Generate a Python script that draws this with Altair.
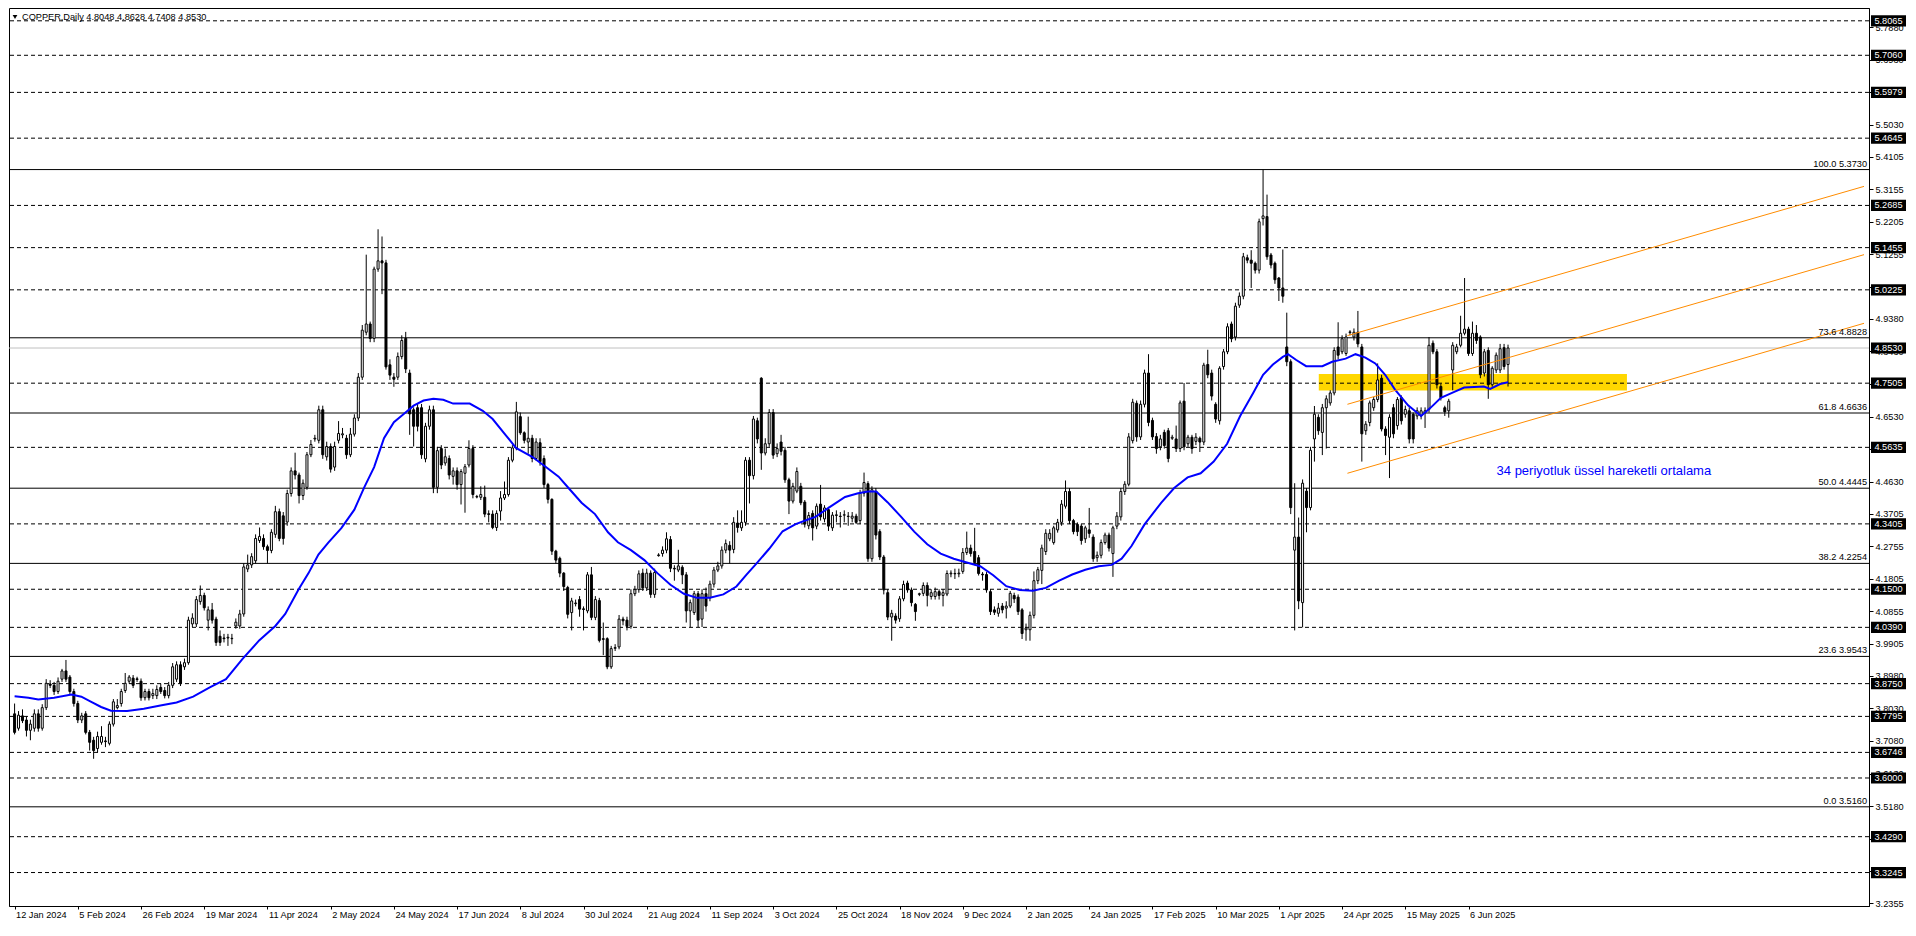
import altair as alt
import pandas as pd

W, H = 1860, 898
FONT = "Liberation Sans"
FS = 9.2

# ---------------- candle data (daily, 12 Jan 2024 -> 20 Jun 2025) ----------------
opens = [
3.787,3.745,3.781,3.769,3.739,3.745,3.787,3.745,3.805,3.874,
3.870,3.852,3.888,3.912,3.894,3.852,3.817,3.769,3.787,3.733,
3.710,3.686,3.704,3.708,3.701,3.757,3.805,3.817,3.855,3.882,
3.891,3.889,3.882,3.834,3.852,3.840,3.840,3.864,3.855,3.840,
3.870,3.888,3.930,3.924,3.936,4.049,4.049,4.114,4.132,4.060,
4.090,4.063,4.013,4.008,4.008,4.006,4.043,4.043,4.078,4.209,
4.221,4.233,4.292,4.298,4.274,4.263,4.310,4.376,4.364,4.346,
4.429,4.495,4.483,4.423,4.447,4.542,4.588,4.584,4.673,4.536,
4.566,4.506,4.584,4.600,4.590,4.542,4.602,4.649,4.768,4.899,
4.923,4.881,5.083,5.107,5.101,4.804,4.768,4.768,4.828,4.881,
4.780,4.673,4.679,4.679,4.530,4.625,4.673,4.447,4.560,4.518,
4.531,4.479,4.495,4.455,4.488,4.512,4.560,4.420,4.418,4.418,
4.370,4.369,4.330,4.378,4.416,4.426,4.526,4.562,4.653,4.606,
4.579,4.590,4.531,4.577,4.531,4.455,4.412,4.261,4.240,4.197,
4.155,4.082,4.108,4.120,4.093,4.087,4.192,4.068,4.117,4.006,
4.006,3.924,3.978,3.982,4.063,4.060,4.042,4.137,4.149,4.197,
4.154,4.197,4.135,4.248,4.254,4.264,4.295,4.211,4.206,4.214,
4.192,4.087,4.082,4.137,4.063,4.137,4.125,4.165,4.206,4.218,
4.264,4.278,4.266,4.343,4.329,4.345,4.526,4.481,4.641,4.765,
4.547,4.574,4.665,4.545,4.579,4.555,4.469,4.407,4.436,4.450,
4.404,4.335,4.371,4.334,4.398,4.355,4.382,4.329,4.365,4.363,
4.366,4.362,4.357,4.363,4.350,4.430,4.458,4.239,4.435,4.318,
4.244,4.140,4.069,4.072,4.064,4.122,4.168,4.148,4.106,4.135,
4.138,4.161,4.129,4.129,4.143,4.132,4.136,4.195,4.196,4.195,
4.202,4.257,4.270,4.260,4.242,4.194,4.193,4.143,4.090,4.080,
4.101,4.095,4.101,4.132,4.127,4.090,4.032,4.032,4.074,4.175,
4.205,4.260,4.297,4.286,4.323,4.345,4.392,4.435,4.350,4.339,
4.334,4.297,4.323,4.302,4.242,4.249,4.286,4.308,4.254,4.334,
4.361,4.435,4.456,4.583,4.692,4.594,4.689,4.780,4.642,4.595,
4.565,4.607,4.612,4.590,4.588,4.560,4.698,4.574,4.593,4.581,
4.590,4.579,4.805,4.780,4.689,4.641,4.799,4.842,4.923,4.885,
4.978,5.004,5.116,5.109,5.100,5.080,5.230,5.236,5.124,5.100,
5.057,5.028,4.856,4.813,4.264,4.302,4.111,4.436,4.388,4.588,
4.651,4.607,4.679,4.693,4.722,4.856,4.842,4.837,4.898,4.885,
4.899,4.856,4.612,4.636,4.679,4.703,4.765,4.617,4.593,4.679,
4.627,4.708,4.660,4.670,4.660,4.655,4.655,4.665,4.674,4.867,
4.842,4.741,4.679,4.670,4.789,4.842,4.861,4.896,4.908,4.837,
4.896,4.885,4.780,4.846,4.746,4.789,4.789,4.854,4.8048]

highs = [
3.817,3.795,3.800,3.780,3.770,3.800,3.800,3.815,3.888,3.885,
3.880,3.893,3.918,3.944,3.900,3.860,3.825,3.790,3.795,3.740,
3.720,3.735,3.751,3.720,3.765,3.830,3.830,3.860,3.906,3.900,
3.900,3.895,3.890,3.860,3.860,3.860,3.870,3.875,3.865,3.880,
3.935,3.940,3.940,3.948,4.070,4.080,4.130,4.161,4.140,4.100,
4.110,4.070,4.030,4.020,4.020,4.020,4.065,4.090,4.225,4.251,
4.255,4.310,4.330,4.310,4.280,4.325,4.393,4.385,4.375,4.440,
4.505,4.548,4.490,4.470,4.550,4.585,4.600,4.685,4.685,4.580,
4.575,4.580,4.640,4.620,4.600,4.620,4.660,4.780,4.920,5.125,
4.930,5.090,5.199,5.178,5.110,4.820,4.780,4.840,4.890,4.900,
4.790,4.680,4.690,4.690,4.635,4.685,4.685,4.565,4.570,4.560,
4.540,4.505,4.505,4.500,4.515,4.584,4.570,4.425,4.450,4.452,
4.380,4.380,4.380,4.436,4.464,4.535,4.570,4.696,4.665,4.610,
4.653,4.600,4.590,4.590,4.540,4.460,4.415,4.265,4.245,4.200,
4.160,4.125,4.120,4.130,4.100,4.200,4.215,4.130,4.125,4.053,
4.010,3.985,3.990,4.075,4.070,4.070,4.150,4.160,4.205,4.210,
4.210,4.205,4.210,4.255,4.275,4.316,4.305,4.220,4.265,4.220,
4.200,4.120,4.145,4.145,4.150,4.155,4.175,4.215,4.230,4.275,
4.295,4.290,4.360,4.380,4.380,4.535,4.535,4.655,4.650,4.768,
4.590,4.675,4.675,4.575,4.600,4.565,4.475,4.460,4.505,4.460,
4.410,4.375,4.380,4.400,4.454,4.395,4.390,4.375,4.380,4.375,
4.380,4.375,4.375,4.370,4.440,4.490,4.465,4.450,4.445,4.325,
4.250,4.150,4.090,4.080,4.130,4.175,4.175,4.155,4.110,4.140,
4.170,4.170,4.150,4.155,4.150,4.150,4.205,4.205,4.210,4.210,
4.270,4.318,4.280,4.329,4.250,4.200,4.200,4.150,4.100,4.110,
4.110,4.115,4.145,4.140,4.135,4.095,4.050,4.085,4.202,4.215,
4.280,4.325,4.325,4.335,4.355,4.410,4.467,4.445,4.355,4.345,
4.340,4.335,4.387,4.310,4.260,4.295,4.315,4.315,4.335,4.375,
4.445,4.465,4.605,4.705,4.700,4.700,4.790,4.835,4.650,4.605,
4.600,4.615,4.620,4.600,4.627,4.700,4.751,4.600,4.600,4.605,
4.595,4.810,4.848,4.790,4.695,4.800,4.850,4.925,4.930,4.985,
5.015,5.130,5.125,5.138,5.105,5.230,5.373,5.300,5.130,5.105,
5.060,5.140,4.956,4.820,4.459,4.359,4.470,4.445,4.565,4.684,
4.660,4.690,4.715,4.730,4.855,4.928,4.890,4.895,4.905,4.910,
4.961,4.865,4.640,4.700,4.710,4.808,4.775,4.625,4.660,4.690,
4.710,4.715,4.685,4.680,4.665,4.680,4.680,4.680,4.885,4.875,
4.850,4.750,4.685,4.705,4.870,4.865,4.947,5.057,4.915,4.930,
4.920,4.890,4.850,4.855,4.800,4.840,4.865,4.865,4.8628]

lows = [
3.727,3.738,3.760,3.721,3.710,3.735,3.735,3.738,3.798,3.862,
3.842,3.845,3.880,3.880,3.845,3.808,3.760,3.760,3.727,3.680,
3.656,3.675,3.697,3.690,3.695,3.750,3.800,3.808,3.848,3.875,
3.862,3.880,3.825,3.826,3.826,3.830,3.830,3.845,3.832,3.832,
3.862,3.880,3.868,3.915,3.930,4.040,4.040,4.105,4.088,4.030,
4.050,3.985,3.985,3.995,3.985,3.990,4.035,4.035,4.070,4.200,
4.212,4.225,4.285,4.265,4.225,4.255,4.300,4.290,4.280,4.335,
4.420,4.470,4.400,4.410,4.440,4.535,4.580,4.575,4.530,4.525,
4.490,4.495,4.575,4.590,4.530,4.535,4.595,4.640,4.760,4.890,
4.870,4.870,5.075,5.010,4.790,4.760,4.740,4.760,4.820,4.780,
4.600,4.566,4.610,4.530,4.520,4.615,4.430,4.430,4.500,4.510,
4.470,4.455,4.440,4.397,4.373,4.505,4.415,4.415,4.410,4.360,
4.345,4.325,4.320,4.350,4.410,4.420,4.520,4.555,4.600,4.575,
4.545,4.520,4.525,4.510,4.445,4.400,4.250,4.225,4.185,4.145,
4.065,4.030,4.100,4.070,4.030,4.080,4.060,4.060,3.995,3.958,
3.917,3.918,3.970,3.975,4.045,4.030,4.035,4.130,4.140,4.145,
4.145,4.125,4.125,4.245,4.245,4.255,4.200,4.175,4.200,4.165,
4.053,4.040,4.075,4.040,4.040,4.085,4.115,4.155,4.200,4.210,
4.255,4.225,4.255,4.315,4.320,4.335,4.400,4.470,4.575,4.498,
4.540,4.565,4.530,4.535,4.540,4.460,4.369,4.400,4.430,4.395,
4.330,4.325,4.292,4.325,4.350,4.345,4.320,4.320,4.345,4.330,
4.345,4.335,4.345,4.340,4.340,4.420,4.230,4.230,4.295,4.235,
4.135,4.060,4.000,4.050,4.055,4.115,4.140,4.100,4.058,4.130,
4.130,4.100,4.120,4.120,4.120,4.100,4.130,4.185,4.180,4.185,
4.195,4.250,4.245,4.220,4.190,4.175,4.140,4.075,4.075,4.070,
4.080,4.065,4.095,4.110,4.075,4.005,4.000,4.000,4.065,4.165,
4.165,4.250,4.290,4.280,4.315,4.335,4.385,4.340,4.310,4.305,
4.280,4.285,4.300,4.230,4.230,4.240,4.280,4.260,4.186,4.325,
4.350,4.425,4.450,4.575,4.580,4.585,4.680,4.625,4.585,4.545,
4.555,4.560,4.520,4.585,4.550,4.550,4.555,4.565,4.545,4.570,
4.550,4.570,4.765,4.700,4.635,4.630,4.790,4.835,4.870,4.875,
4.970,4.995,5.100,5.028,5.070,5.070,5.210,5.110,5.085,5.040,
4.990,4.985,4.800,4.369,4.030,4.092,4.039,4.316,4.380,4.522,
4.600,4.541,4.560,4.685,4.715,4.820,4.835,4.830,4.890,4.875,
4.855,4.522,4.600,4.625,4.670,4.695,4.610,4.541,4.474,4.590,
4.615,4.630,4.650,4.575,4.575,4.645,4.645,4.620,4.665,4.835,
4.735,4.700,4.655,4.650,4.730,4.835,4.855,4.890,4.830,4.830,
4.865,4.765,4.770,4.705,4.740,4.780,4.780,4.790,4.7408]

closes = [
3.733,3.783,3.767,3.739,3.757,3.787,3.745,3.805,3.876,3.870,
3.852,3.882,3.912,3.888,3.852,3.817,3.769,3.781,3.733,3.704,
3.680,3.721,3.721,3.706,3.757,3.822,3.811,3.852,3.876,3.894,
3.870,3.887,3.834,3.852,3.834,3.846,3.858,3.852,3.840,3.870,
3.924,3.930,3.876,3.936,4.060,4.066,4.120,4.132,4.096,4.090,
4.060,3.995,3.995,4.006,4.010,4.007,4.054,4.078,4.215,4.221,
4.245,4.298,4.304,4.274,4.263,4.316,4.376,4.298,4.298,4.429,
4.495,4.483,4.423,4.459,4.542,4.572,4.590,4.673,4.542,4.566,
4.500,4.566,4.604,4.603,4.542,4.602,4.649,4.768,4.905,4.923,
4.881,5.083,5.107,5.101,4.798,4.774,4.762,4.828,4.875,4.792,
4.661,4.625,4.625,4.542,4.625,4.673,4.447,4.554,4.512,4.536,
4.483,4.495,4.455,4.493,4.507,4.560,4.426,4.419,4.426,4.369,
4.368,4.330,4.371,4.416,4.426,4.526,4.562,4.667,4.606,4.584,
4.590,4.531,4.579,4.522,4.455,4.412,4.261,4.235,4.197,4.158,
4.077,4.116,4.110,4.092,4.091,4.192,4.068,4.120,4.001,4.004,
3.924,3.977,3.980,4.063,4.058,4.042,4.137,4.149,4.195,4.154,
4.197,4.135,4.199,4.250,4.264,4.297,4.211,4.209,4.218,4.192,
4.087,4.111,4.137,4.060,4.137,4.101,4.165,4.206,4.218,4.264,
4.283,4.264,4.345,4.330,4.345,4.526,4.481,4.646,4.588,4.547,
4.574,4.665,4.541,4.560,4.552,4.469,4.407,4.450,4.493,4.402,
4.340,4.365,4.329,4.392,4.361,4.387,4.334,4.366,4.367,4.362,
4.367,4.363,4.363,4.345,4.430,4.461,4.239,4.440,4.308,4.244,
4.148,4.069,4.080,4.060,4.122,4.164,4.148,4.111,4.085,4.137,
4.161,4.132,4.140,4.143,4.132,4.140,4.196,4.197,4.195,4.197,
4.257,4.270,4.254,4.228,4.196,4.192,4.148,4.085,4.083,4.095,
4.090,4.101,4.138,4.122,4.085,4.021,4.037,4.074,4.175,4.207,
4.270,4.313,4.313,4.329,4.345,4.398,4.435,4.350,4.318,4.318,
4.292,4.329,4.313,4.239,4.249,4.286,4.308,4.270,4.329,4.363,
4.435,4.456,4.594,4.695,4.594,4.689,4.780,4.636,4.594,4.560,
4.588,4.569,4.531,4.593,4.560,4.693,4.565,4.593,4.560,4.593,
4.579,4.803,4.775,4.713,4.646,4.794,4.842,4.915,4.880,4.975,
5.004,5.119,5.109,5.100,5.080,5.221,5.238,5.119,5.095,5.052,
5.028,5.004,4.813,4.388,4.302,4.116,4.459,4.388,4.555,4.660,
4.612,4.679,4.705,4.722,4.846,4.832,4.880,4.885,4.900,4.899,
4.865,4.603,4.631,4.693,4.703,4.760,4.617,4.598,4.651,4.603,
4.703,4.641,4.674,4.588,4.588,4.670,4.670,4.670,4.861,4.842,
4.746,4.708,4.667,4.698,4.861,4.856,4.896,4.908,4.837,4.896,
4.875,4.775,4.842,4.746,4.794,4.832,4.851,4.799,4.8530]

# x-axis labels (every 16 bars)
date_labels = ["12 Jan 2024", "5 Feb 2024", "26 Feb 2024", "19 Mar 2024", "11 Apr 2024",
               "2 May 2024", "24 May 2024", "17 Jun 2024", "8 Jul 2024", "30 Jul 2024",
               "21 Aug 2024", "11 Sep 2024", "3 Oct 2024", "25 Oct 2024", "18 Nov 2024",
               "9 Dec 2024", "2 Jan 2025", "24 Jan 2025", "17 Feb 2025", "10 Mar 2025",
               "1 Apr 2025", "24 Apr 2025", "15 May 2025", "6 Jun 2025"]
label_step = 16

# right price scale ticks
price_ticks = [5.7880, 5.6930, 5.5980, 5.5030, 5.4105, 5.3155, 5.2205, 5.1255, 5.0305,
               4.9380, 4.8430, 4.7480, 4.6530, 4.5580, 4.4630, 4.3705, 4.2755, 4.1805,
               4.0855, 3.9905, 3.8980, 3.8030, 3.7080, 3.6130, 3.5180, 3.4230, 3.3280, 3.2355]

# 34-period EMA
ema_x = [0, 3.5, 6, 10, 14.4, 16.9, 19.4, 21.9, 24.4, 28.5, 32.7, 36.9, 41, 45.2, 49.4, 53.5,
         57.7, 61.9, 66, 68.5, 71.9, 74.4, 76.9, 79.4, 82.7, 86, 88.5, 91, 93.5, 96, 98.5, 101,
         103.5, 106, 108.5, 111, 115.2, 118.5, 121, 124.4, 126.9, 131, 134.4, 137.7, 140.2,
         143.5, 146.9, 150.2, 152.7, 156, 159.4, 162.7, 166, 169.4, 172.7, 176, 179.4, 182.7,
         185.2, 187.7, 191, 194.4, 197.7, 201, 202.7, 206, 210.2, 213.5, 216, 218.1, 221, 224.4,
         227.7, 231, 234.4, 237.7, 241, 244.4, 247.7, 251, 254.4, 257.7, 261, 264.4, 267.7, 271,
         274.4, 277.7, 280.2, 282.7, 286, 290.2, 293.5, 296.9, 300.2, 303.5, 306.9, 310.2, 313.5,
         316, 318.5, 321, 322.3, 324.4, 326.9, 331, 333.5, 336.9, 339.4, 341.9, 344.4, 346.9,
         349.4, 352.7, 356, 358.5, 361, 364.4, 366.9, 371.9, 373.5, 376, 378]
ema_y = [3.838, 3.834, 3.829, 3.834, 3.843, 3.837, 3.822, 3.807, 3.796, 3.795, 3.802, 3.811,
         3.820, 3.837, 3.864, 3.888, 3.947, 4.001, 4.043, 4.078, 4.150, 4.197, 4.251, 4.286,
         4.328, 4.382, 4.447, 4.506, 4.590, 4.637, 4.661, 4.685, 4.700, 4.705, 4.702, 4.691,
         4.691, 4.670, 4.646, 4.598, 4.562, 4.536, 4.507, 4.478, 4.445, 4.402, 4.369, 4.316,
         4.287, 4.264, 4.235, 4.197, 4.163, 4.137, 4.125, 4.125, 4.135, 4.158, 4.192, 4.224,
         4.268, 4.319, 4.340, 4.354, 4.361, 4.387, 4.419, 4.430, 4.435, 4.435, 4.403, 4.361,
         4.318, 4.281, 4.254, 4.239, 4.228, 4.217, 4.191, 4.159, 4.148, 4.146, 4.154, 4.175,
         4.193, 4.207, 4.217, 4.221, 4.239, 4.276, 4.339, 4.402, 4.445, 4.476, 4.488, 4.522,
         4.574, 4.655, 4.722, 4.775, 4.805, 4.827, 4.835, 4.818, 4.800, 4.800, 4.813, 4.822,
         4.835, 4.825, 4.808, 4.775, 4.732, 4.686, 4.655, 4.680, 4.708, 4.725, 4.738, 4.741,
         4.734, 4.748, 4.753]

# horizontal levels
dashed_levels = [5.8065, 5.7060, 5.5979, 5.4645, 5.2685, 5.1455, 5.0225, 4.7505, 4.5635,
                 4.3405, 4.1500, 4.0390, 3.8750, 3.7795, 3.6746, 3.6000, 3.4290, 3.3245]
fib_levels = [5.3730, 4.8828, 4.6636, 4.4445, 4.2254, 3.9543, 3.5160]
fib_pcts = ["100.0", "73.6", "61.8", "50.0", "38.2", "23.6", "0.0"]
bid_price = 4.8530

# orange parallel channel (bar index / price at start and at right edge)
chan_x0, chan_x1 = 337.35, 468.1
chan_y0 = [4.889, 4.689, 4.488]
chan_y1 = [5.324, 5.125, 4.925]

# yellow zone
zone_x = [330.1, 408.1]
zone_y = [4.729, 4.777]

ema_note = "34 periyotluk üssel hareketli ortalama"
ema_note_pos = [375.1, 4.494]
header = "COPPER,Daily  4.8048 4.8628 4.7408 4.8530"

# ---------------- build ----------------
n = len(opens)
candles = pd.DataFrame({"i": list(range(n)), "o": opens, "h": highs, "l": lows, "c": closes})
candles["dir"] = ["up" if c >= o else "down" for o, c in zip(opens, closes)]

XS = alt.Scale(domain=[-0.15, 468.1], nice=False, zero=False)
YS = alt.Scale(domain=[3.227, 5.8438], nice=False, zero=False)

label_js = "[" + ",".join("'%s'" % s for s in date_labels) + "]"
X_AX = alt.Axis(values=[label_step * k for k in range(len(date_labels))],
                labelExpr=label_js + "[round(datum.value/%d)]" % label_step,
                title=None, grid=False, labelAlign="left", labelOffset=1, labelFlush=False,
                labelOverlap=False, labelBound=False, tickSize=3, tickColor="black",
                domainColor="black", labelColor="black", labelFont=FONT, labelFontSize=FS,
                labelPadding=1, labelBaseline="top")
Y_AX = alt.Axis(orient="right", values=price_ticks, labelExpr="format(datum.value, '.4f')",
                title=None, grid=False, tickSize=4, tickColor="black", domainColor="black",
                labelColor="black", labelFont=FONT, labelFontSize=FS, labelPadding=2,
                labelFlush=False, labelOverlap=False, labelBound=False)


def X(f):
    return alt.X(f, scale=XS, axis=X_AX)


def Y(f):
    return alt.Y(f, scale=YS, axis=Y_AX)


zone = alt.Chart(pd.DataFrame({"x0": [zone_x[0]], "x1": [zone_x[1]],
                               "y0": [zone_y[0]], "y1": [zone_y[1]]})).mark_rect(
    color="#FFD700").encode(x=X("x0:Q"), x2="x1", y=Y("y0:Q"), y2="y1")

dashed = alt.Chart(pd.DataFrame({"p": dashed_levels})).mark_rule(
    color="black", strokeWidth=1, strokeDash=[4, 3]).encode(y=Y("p:Q"))

fib_df = pd.DataFrame({"p": fib_levels,
                       "lab": ["%s %.4f" % (a, b) for a, b in zip(fib_pcts, fib_levels)]})
fib = alt.Chart(fib_df).mark_rule(color="black", strokeWidth=1).encode(y=Y("p:Q"))
fib_txt = alt.Chart(fib_df).mark_text(align="right", baseline="bottom", dy=-1, color="black",
                                      font=FONT, fontSize=FS).encode(
    x=alt.value(W - 2), y=Y("p:Q"), text="lab:N")

bid = alt.Chart(pd.DataFrame({"p": [bid_price]})).mark_rule(
    color="#C0C0C0", strokeWidth=1).encode(y=Y("p:Q"))

wicks = alt.Chart(candles).mark_rule(color="black", strokeWidth=1).encode(
    x=X("i:Q"), y=Y("l:Q"), y2="h")
bodies = alt.Chart(candles).mark_bar(size=2, stroke="black", strokeWidth=1).encode(
    x=X("i:Q"), y=Y("o:Q"), y2="c",
    color=alt.Color("dir:N", scale=alt.Scale(domain=["up", "down"], range=["#ffffff", "#000000"]),
                    legend=None))

ema = alt.Chart(pd.DataFrame({"x": ema_x, "y": ema_y})).mark_line(
    color="#0000FF", strokeWidth=2).encode(x=X("x:Q"), y=Y("y:Q"))

chan = alt.Chart(pd.DataFrame({"x0": [chan_x0] * 3, "x1": [chan_x1] * 3,
                               "y0": chan_y0, "y1": chan_y1})).mark_rule(
    color="#FF8C00", strokeWidth=1).encode(x=X("x0:Q"), x2="x1", y=Y("y0:Q"), y2="y1")

note = alt.Chart(pd.DataFrame({"x": [ema_note_pos[0]], "y": [ema_note_pos[1]], "t": [ema_note]})).mark_text(
    align="left", baseline="middle", color="#0000FF", font=FONT, fontSize=13).encode(
    x=X("x:Q"), y=Y("y:Q"), text="t:N")

box_levels = sorted(dashed_levels + [bid_price], reverse=True)
box_df = pd.DataFrame({"p": box_levels, "lab": ["%.4f" % v for v in box_levels]})
BOX = "M-1,-0.32L1,-0.32L1,0.32L-1,0.32Z"
boxes = alt.Chart(box_df).mark_point(shape=BOX, filled=True, color="black", size=1225,
                                     opacity=1, strokeWidth=0).encode(
    x=alt.value(W + 19.5), y=Y("p:Q"))
box_txt = alt.Chart(box_df).mark_text(align="center", baseline="middle", color="white",
                                      font=FONT, fontSize=FS).encode(
    x=alt.value(W + 19.5), y=Y("p:Q"), text="lab:N")

head = alt.Chart(pd.DataFrame({"t": [header]})).mark_text(
    align="left", baseline="middle", color="black", font=FONT, fontSize=FS).encode(
    x=alt.value(13), y=alt.value(9), text="t:N")
tri = alt.Chart(pd.DataFrame({"t": [header]})).mark_point(
    shape="triangle-down", filled=True, color="black", size=22, opacity=1).encode(
    x=alt.value(6), y=alt.value(9))

chart = alt.layer(zone, dashed, fib, bid, wicks, bodies, ema, chan, note, fib_txt,
                  boxes, box_txt, head, tri).properties(
    width=W, height=H, padding=0, background="white").configure_view(
    stroke="black", strokeWidth=1)

chart.save("out.html", embed_options={"renderer": "svg", "actions": False})
